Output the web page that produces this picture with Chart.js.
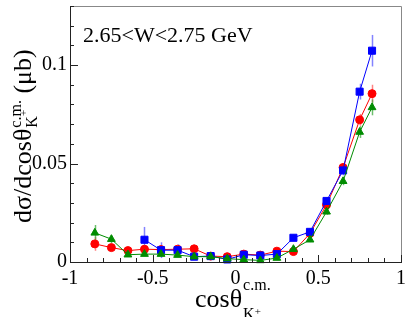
<!DOCTYPE html>
<html><head><meta charset="utf-8">
<script src="https://cdn.jsdelivr.net/npm/chart.js@4"></script>
<style>html,body{margin:0;padding:0;background:#fff;}canvas{display:block;}</style>
</head><body>
<canvas id="c" width="407" height="317"></canvas>
<script>
// ---- data ----
const cosTheta = [-0.85,-0.75,-0.65,-0.55,-0.45,-0.35,-0.25,-0.15,-0.05,0.05,0.15,0.25,0.35,0.45,0.55,0.65,0.75,0.825];
const redValues   = [0.0092,0.0073,0.0058,0.0065,0.0063,0.0065,0.0067,0.0030,0.0027,0.0040,0.0035,0.0055,0.0053,0.0145,0.0290,0.0480,0.0722,0.0855];
const redErrors   = [0.0035,0.0015,0.0012,0.0015,0.0015,0.0015,0.0012,0.0010,0.0010,0.0010,0.0010,0.0010,0.0012,0.0015,0.0020,0.0020,0.0030,0.0045];
const blueValues  = [null,null,null,0.0113,0.0060,0.0060,0.0027,0.0030,0.0013,0.0037,0.0033,0.0040,0.0123,0.0153,0.0310,0.0465,0.0865,0.1073];
const blueErrors  = [null,null,null,0.0065,0.0040,0.0030,0.0015,0.0012,0.0012,0.0012,0.0012,0.0012,0.0015,0.0015,0.0020,0.0025,0.0040,0.0080];
const greenValues = [0.0148,0.0116,0.0037,0.0040,0.0040,0.0035,0.0027,0.0027,0.0017,0.0012,0.0008,0.0020,0.0065,0.0113,0.0255,0.0410,0.0660,0.0785];
const greenErrors = [0.0040,0.0020,0.0010,0.0010,0.0010,0.0010,0.0010,0.0008,0.0008,0.0008,0.0008,0.0008,0.0010,0.0012,0.0015,0.0020,0.0030,0.0040];
const xTickLabels = ['-1','-0.5','0','0.5','1'];
const yTickLabels = ['0','0.05','0.1'];
const energyLabel = '2.65<W<2.75 GeV';

const FONT = "'Liberation Serif','Times New Roman',serif";

function toPoints(vals){ return cosTheta.map((x,i)=>({x:x, y:vals[i]})); }
function labelFor(value, list){
  for (const s of list){ if (Math.abs(parseFloat(s) - value) < 1e-6) return s; }
  return '';
}

const errorBars = {
  id:'errorBars',
  beforeDatasetsDraw(chart){
    const ctx = chart.ctx, xs = chart.scales.x, ys = chart.scales.y;
    chart.data.datasets.forEach((ds)=>{
      ctx.save();
      ctx.strokeStyle = ds.errColor; ctx.lineWidth = 1.5;
      ds.data.forEach((p,i)=>{
        const e = ds.errors[i];
        if (p.y == null || e == null) return;
        const px = Math.round(xs.getPixelForValue(p.x)) + 0.5;
        ctx.beginPath();
        ctx.moveTo(px, ys.getPixelForValue(p.y - e));
        ctx.lineTo(px, ys.getPixelForValue(p.y + e));
        ctx.stroke();
      });
      ctx.restore();
    });
  }
};

const frame = {
  id:'frame',
  afterDatasetsDraw(chart){
    const ctx = chart.ctx, a = chart.chartArea, xs = chart.scales.x, ys = chart.scales.y;
    ctx.save();
    ctx.lineWidth = 1;
    ctx.strokeStyle = '#888';
    ctx.beginPath();
    ctx.moveTo(a.left, a.top + 0.5); ctx.lineTo(a.right + 0.5, a.top + 0.5); ctx.lineTo(a.right + 0.5, a.bottom);
    ctx.stroke();
    ctx.strokeStyle = '#222';
    ctx.beginPath();
    ctx.moveTo(a.left + 0.5, a.top); ctx.lineTo(a.left + 0.5, a.bottom + 0.5); ctx.lineTo(a.right + 1, a.bottom + 0.5);
    ctx.stroke();
    ctx.beginPath();
    xs.ticks.forEach(t=>{
      const px = Math.round(xs.getPixelForValue(t.value)) + 0.5;
      const len = labelFor(t.value, xTickLabels) ? 7 : 4;
      ctx.moveTo(px, a.bottom); ctx.lineTo(px, a.bottom - len);
    });
    ys.ticks.forEach(t=>{
      const py = Math.round(ys.getPixelForValue(t.value)) + 0.5;
      const len = labelFor(t.value, yTickLabels) ? 8 : 4;
      ctx.moveTo(a.left, py); ctx.lineTo(a.left + len, py);
    });
    ctx.stroke();
    ctx.restore();
  },
  afterDraw(chart){
    const ctx = chart.ctx;
    ctx.save();
    ctx.fillStyle = '#000';
    ctx.textBaseline = 'alphabetic';
    ctx.textAlign = 'left';
    // energy label
    ctx.font = '22px ' + FONT;
    ctx.fillText(energyLabel, 83, 42);
    // x title
    let x0 = 195, y0 = 307;
    ctx.font = '26px ' + FONT;
    ctx.fillText('cos\u03B8', x0, y0);
    let w = ctx.measureText('cos\u03B8').width;
    ctx.font = '16px ' + FONT;
    ctx.fillText('c.m.', x0 + w + 1, y0 - 17);
    ctx.fillText('K', x0 + w + 1, y0 + 12);
    let kw = ctx.measureText('K').width;
    ctx.font = '11px ' + FONT;
    ctx.fillText('+', x0 + w + 1 + kw, y0 + 8);
    // y title
    ctx.translate(31, 223);
    ctx.rotate(-Math.PI/2);
    ctx.font = '26px ' + FONT;
    ctx.fillText('d\u03C3/dcos\u03B8', 0, 0);
    w = ctx.measureText('d\u03C3/dcos\u03B8').width;
    ctx.font = '16px ' + FONT;
    ctx.fillText('c.m.', w + 1, -10);
    const cmw = ctx.measureText('c.m.').width;
    ctx.fillText('K', w + 1, 6);
    kw = ctx.measureText('K').width;
    ctx.font = '11px ' + FONT;
    ctx.fillText('+', w + 1 + kw, -4);
    const pw = ctx.measureText('+').width;
    const supW = Math.max(cmw, kw + pw);
    ctx.font = '26px ' + FONT;
    ctx.fillText(' (\u03BCb)', w + 1 + supW, 0);
    ctx.restore();
  }
};

function ds(label, vals, errs, color, errColor, style, radius, order){
  return {
    label, data: toPoints(vals), errors: errs, errColor,
    borderColor: color, backgroundColor: color,
    pointBackgroundColor: color, pointBorderColor: color,
    pointStyle: style, pointRadius: radius, pointBorderWidth: 1,
    borderWidth: 1, spanGaps: true, tension: 0, clip: false, order
  };
}

new Chart(document.getElementById('c'), {
  type: 'line',
  data: {
    datasets: [
      ds('red', redValues, redErrors, '#ff0000', 'rgba(255,90,90,0.75)', 'circle', 4, 3),
      ds('blue', blueValues, blueErrors, '#0000ff', 'rgba(90,90,255,0.75)', 'rect', 5, 2),
      ds('green', greenValues, greenErrors, '#008c00', 'rgba(60,170,60,0.75)', 'triangle', 4.5, 1)
    ]
  },
  options: {
    responsive: false, animation: false, devicePixelRatio: 1,
    layout: { padding: { top: 2, right: 4, left: 0, bottom: 0 } },
    plugins: { legend: { display: false }, tooltip: { enabled: false }, title: { display: false } },
    scales: {
      x: {
        type: 'linear', min: -1, max: 1,
        grid: { display: false, drawTicks: false }, border: { display: false },
        ticks: {
          stepSize: 0.1, autoSkip: false, maxRotation: 0, minRotation: 0, padding: 5,
          color: '#000', font: { family: FONT, size: 20 },
          callback: (v) => labelFor(v, xTickLabels)
        },
        afterFit(s){ s.height = 55; s.paddingLeft = 0; s.paddingRight = 0; }
      },
      y: {
        type: 'linear', min: 0, max: 0.13,
        grid: { display: false, drawTicks: false }, border: { display: false },
        ticks: {
          stepSize: 0.01, autoSkip: false, padding: 3,
          color: '#000', font: { family: FONT, size: 20 },
          callback: (v) => labelFor(v, yTickLabels)
        },
        afterFit(s){ s.width = 70; s.paddingTop = 0; s.paddingBottom = 0; }
      }
    }
  },
  plugins: [errorBars, frame]
});
</script>
</body></html>
